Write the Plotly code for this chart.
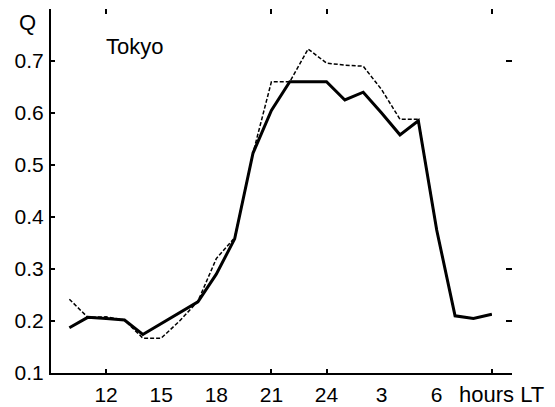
import plotly.graph_objects as go

# Local time in hours (continuing past 24 -> next morning)
hours = [10, 11, 12, 13, 14, 15, 16, 17, 18, 19, 20, 21, 22, 23, 24,
         25, 26, 27, 28, 29, 30, 31, 32, 33]
q_solid = [0.187, 0.207, 0.205, 0.202, 0.174, 0.195, 0.215, 0.237, 0.290,
           0.358, 0.523, 0.605, 0.660, 0.660, 0.660, 0.625, 0.640, 0.600,
           0.558, 0.585, 0.375, 0.210, 0.205, 0.213]
q_dashed = [0.242, 0.207, 0.208, 0.202, 0.167, 0.167, 0.200, 0.238, 0.320,
            0.360, 0.523, 0.660, 0.660, 0.723, 0.696, 0.692, 0.690, 0.645,
            0.588, 0.588, 0.375, 0.210, 0.205, 0.213]

label_vals = [12, 15, 18, 21, 24, 27, 30]
label_text = ["12", "15", "18", "21", "24", "3", "6"]
xtick_marks = [12, 21, 24, 33]
ytick_vals = [0.1, 0.2, 0.3, 0.4, 0.5, 0.6, 0.7]
right_tick_marks = [0.2, 0.3, 0.7]

FONT = "Liberation Sans, Arial, sans-serif"
XR = [9, 34.1]
YR = [0.1, 0.8]

fig = go.Figure()
fig.add_trace(go.Scatter(x=hours, y=q_dashed, mode="lines",
                         line=dict(color="black", width=1.5, dash="4px,2px"),
                         showlegend=False))
fig.add_trace(go.Scatter(x=hours, y=q_solid, mode="lines",
                         line=dict(color="black", width=3),
                         showlegend=False))
# invisible helpers so the extra tick-only axes get drawn
fig.add_trace(go.Scatter(x=[None], y=[None], xaxis="x2", yaxis="y", showlegend=False))
fig.add_trace(go.Scatter(x=[None], y=[None], xaxis="x3", yaxis="y", showlegend=False))
fig.add_trace(go.Scatter(x=[None], y=[None], xaxis="x", yaxis="y2", showlegend=False))

fig.update_layout(
    width=555, height=407,
    margin=dict(l=51, r=43, t=9, b=34),
    paper_bgcolor="white", plot_bgcolor="white",
    font=dict(family=FONT, size=21, color="black"),
    xaxis=dict(range=XR, tickvals=label_vals, ticktext=label_text,
               ticks="", showgrid=False, zeroline=False, automargin=False,
               showline=True, linecolor="black", linewidth=2,
               ticklabelstandoff=2),
    xaxis2=dict(range=XR, overlaying="x", side="bottom", anchor="y",
                tickvals=xtick_marks, ticks="inside", ticklen=4, tickwidth=2,
                tickcolor="black", showticklabels=False, showgrid=False,
                zeroline=False, showline=False, automargin=False),
    xaxis3=dict(range=XR, overlaying="x", side="top", anchor="y",
                tickvals=xtick_marks, ticks="inside", ticklen=5, tickwidth=2,
                tickcolor="black", showticklabels=False, showgrid=False,
                zeroline=False, showline=False, automargin=False),
    yaxis=dict(range=YR, tickvals=ytick_vals, tickformat=".1f",
               ticks="inside", ticklen=4, tickwidth=2, tickcolor="black",
               showgrid=False, zeroline=False, automargin=False,
               showline=True, linecolor="black", linewidth=2,
               ticklabelstandoff=1),
    yaxis2=dict(range=YR, overlaying="y", side="right", anchor="x",
                tickvals=right_tick_marks, ticks="inside", ticklen=6,
                tickwidth=2, tickcolor="black", showticklabels=False,
                showgrid=False, zeroline=False, showline=False,
                automargin=False),
    annotations=[
        dict(text="Q", xref="paper", x=-0.052, yref="y", y=0.775,
             showarrow=False, xanchor="center", yanchor="middle",
             font=dict(family=FONT, size=22)),
        dict(text="Tokyo", xref="x", x=11.9, yref="y", y=0.727,
             showarrow=False, xanchor="left", yanchor="middle",
             font=dict(family=FONT, size=22)),
        dict(text="hours LT", xref="x", x=31.1, yref="paper", y=-0.058,
             showarrow=False, xanchor="left", yanchor="middle",
             font=dict(family=FONT, size=22)),
    ],
)

fig.write_html("out.html")
